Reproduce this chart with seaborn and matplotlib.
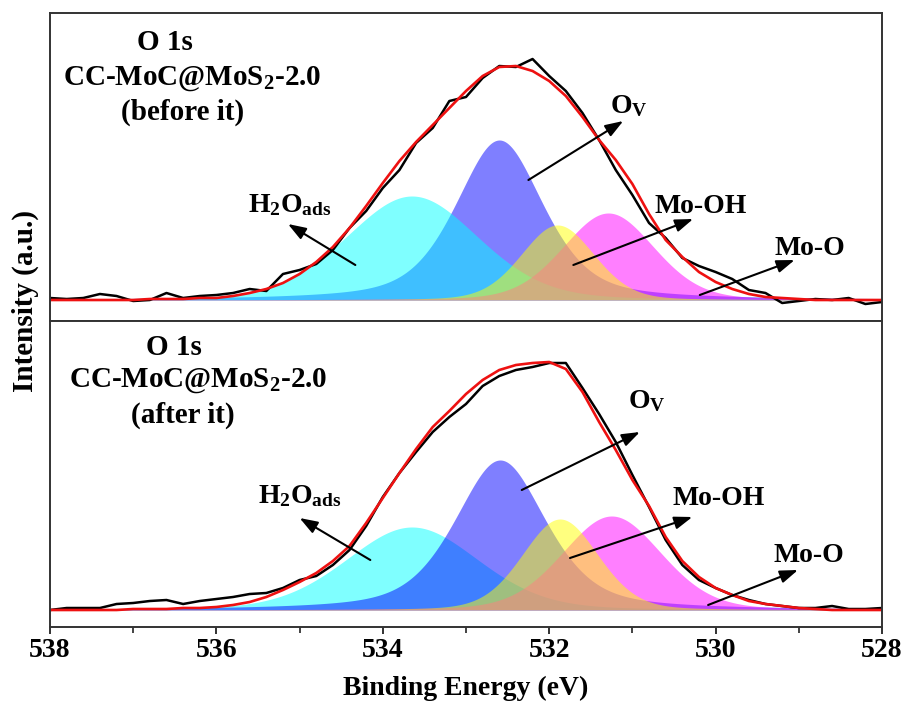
import numpy as np
import pandas as pd
import matplotlib
matplotlib.use("Agg")
import matplotlib.pyplot as plt
import seaborn as sns

# ---------------- data ----------------
energy = np.linspace(538, 528, 51)  # binding energy grid (eV), 0.2 eV steps

raw_before = [2, 1, 2, 6, 4, -1, 0, 7, 2, 4,
              5, 7, 11, 9, 26, 30, 36, 50, 72, 89,
              112, 130, 157, 172, 199, 203, 222, 234, 233, 241,
              224, 209, 187, 160, 130, 105, 77, 62, 42, 34,
              28, 21, 10, 7, -3, -1, 1, 0, 2, -4, -2]
fit_before = [0, 0, 0, 0, 0, 0, 1, 1, 1, 2,
              2, 4, 7, 11, 17, 26, 38, 53, 72, 94,
              117, 139, 158, 175, 192, 209, 224, 233, 234, 229,
              219, 204, 183, 160, 140, 116, 86, 60, 43, 28,
              18, 11, 6, 3, 2, 1, 0, 0, 0, 0, 0]

raw_after = [0, 2, 2, 2, 6, 7, 9, 10, 6, 9,
             11, 13, 16, 17, 22, 30, 34, 45, 60, 84,
             113, 137, 158, 178, 193, 206, 224, 234, 240, 243,
             247, 247, 222, 196, 168, 135, 103, 70, 45, 30,
             22, 15, 10, 6, 4, 2, 2, 4, 1, 1, 2]
fit_after = [0, 0, 0, 0, 0, 1, 1, 1, 2, 2,
             3, 5, 8, 13, 20, 28, 37, 49, 64, 87,
             112, 137, 161, 183, 199, 216, 230, 240, 245, 247,
             248, 241, 218, 188, 160, 130, 104, 73, 49, 33,
             22, 15, 9, 6, 4, 2, 1, 0, 0, 0, 0]

peak_names = ["H2Oads", "Ov", "Mo-OH", "Mo-O"]
centers_before = [533.65, 532.60, 531.90, 531.29]
heights_before = [104, 160, 75, 87]
fwhm_before = [1.88, 1.25, 1.04, 1.30]
centers_after = [533.65, 532.59, 531.87, 531.25]
heights_after = [83, 150, 91, 94]
fwhm_after = [1.88, 1.30, 1.08, 1.41]
lorentz_frac = [0.2, 0.5, 0.2, 0.2]

sample_titles = ["(before it)", "(after it)"]
tick_values = [538, 536, 534, 532, 530, 528]

# ---------------- style ----------------
sns.set_theme(style="white")
plt.rcParams["font.family"] = ["Liberation Serif", "DejaVu Serif"]
plt.rcParams["font.weight"] = "bold"
plt.rcParams["text.color"] = "black"
plt.rcParams["axes.labelcolor"] = "black"
plt.rcParams["xtick.color"] = "black"
plt.rcParams["mathtext.fontset"] = "custom"
plt.rcParams["mathtext.rm"] = "Liberation Serif:bold"
plt.rcParams["mathtext.it"] = "Liberation Serif:bold"
plt.rcParams["mathtext.bf"] = "Liberation Serif:bold"
plt.rcParams["mathtext.default"] = "bf"

peak_colors = {"H2Oads": "#00ffff", "Ov": "#0000ff", "Mo-OH": "#ffff00", "Mo-O": "#ff00ff"}
order_top = ["Ov", "H2Oads", "Mo-O", "Mo-OH"]
order_bot = ["H2Oads", "Ov", "Mo-O", "Mo-OH"]


def pseudo_voigt(x, c, h, fwhm, eta):
    hw = fwhm / 2.0
    g = np.exp(-np.log(2) * ((x - c) / hw) ** 2)
    lo = 1.0 / (1.0 + ((x - c) / hw) ** 2)
    return h * ((1 - eta) * g + eta * lo)


fig = plt.figure(figsize=(9.10, 7.08), dpi=100)
left, right = 50 / 910, 882 / 910
ax_top = fig.add_axes([left, 1 - 320.5 / 708, right - left, (320.5 - 12.7) / 708])
ax_bot = fig.add_axes([left, 1 - 627 / 708, right - left, (627 - 320.5) / 708])

fine = np.linspace(538, 528, 1001)

panels = [
    (ax_top, raw_before, fit_before, centers_before, heights_before, fwhm_before, (-20.5, 287.3), order_top),
    (ax_bot, raw_after, fit_after, centers_after, heights_after, fwhm_after, (-17, 289.5), order_bot),
]

for ax, raw, fit, cen, hei, fw, ylim, order in panels:
    comps = {n: (c, h, w, e) for n, c, h, w, e in zip(peak_names, cen, hei, fw, lorentz_frac)}
    for n in order:
        c, h, w, e = comps[n]
        y = pseudo_voigt(fine, c, h, w, e)
        ax.fill_between(fine, 0, y, color=peak_colors[n], alpha=0.5, linewidth=0)
    df = pd.DataFrame({"E": energy, "raw": raw, "fit": fit})
    sns.lineplot(data=df, x="E", y="raw", ax=ax, color="black", linewidth=1.8, sort=False)
    sns.lineplot(data=df, x="E", y="fit", ax=ax, color="#ee1111", linewidth=1.9, sort=False)
    ax.set_xlim(538, 528)
    ax.set_ylim(*ylim)
    ax.set_yticks([])
    ax.set_ylabel("")
    ax.set_xlabel("")
    for sp in ax.spines.values():
        sp.set_visible(True)
        sp.set_color("#333333")
        sp.set_linewidth(1.4)

ax_top.set_xticks([])
ax_bot.set_xticks(tick_values)
ax_bot.set_xticklabels([str(t) for t in tick_values])
ax_bot.set_xticks([537, 535, 533, 531, 529], minor=True)
ax_bot.tick_params(axis="x", which="major", direction="out", length=5, width=1.3,
                   labelsize=20, pad=3, bottom=True, color="#222222", labelcolor="black")
ax_bot.tick_params(axis="x", which="minor", direction="out", length=4, width=1.2, bottom=True,
                   color="#222222")
for lab in ax_bot.get_xticklabels():
    lab.set_fontweight("bold")
ax_bot.set_xlabel("Binding Energy (eV)", fontsize=20, fontweight="bold", labelpad=9,
                  color="black")
fig.text(25 / 910, 1 - 301 / 708, "Intensity (a.u.)", rotation=90, fontsize=21,
         fontweight="bold", ha="center", va="center", color="black")

# titles
title_pos = [
    (ax_top, [(0.138, 0.879), (0.171, 0.765), (0.159, 0.651)], sample_titles[0]),
    (ax_bot, [(0.149, 0.887), (0.178, 0.783), (0.160, 0.666)], sample_titles[1]),
]
for ax, pos, st in title_pos:
    texts = ["O 1s", r"CC-MoC@MoS$_{2}$-2.0", st]
    for (x, y), t in zip(pos, texts):
        ax.text(x, y, t, transform=ax.transAxes, ha="center", va="baseline",
                fontsize=21, fontweight="bold", color="black")

# labels and arrows
label_text = {"H2Oads": r"H$_{2}$O$_{ads}$", "Ov": r"O$_{V}$", "Mo-OH": "Mo-OH", "Mo-O": "Mo-O"}
ann_top = {
    "H2Oads": ((535.62, 88), (534.33, 35), (535.14, 76)),
    "Ov": ((531.27, 187), (532.25, 120), (531.11, 179)),
    "Mo-OH": ((530.73, 87), (531.71, 35), (530.27, 81)),
    "Mo-O": ((529.29, 45), (530.19, 5), (529.05, 40)),
}
ann_bot = {
    "H2Oads": ((535.50, 107), (534.15, 50), (535.00, 92)),
    "Ov": ((531.05, 202), (532.33, 120), (530.91, 178)),
    "Mo-OH": ((530.52, 105), (531.75, 52), (530.28, 93)),
    "Mo-O": ((529.31, 48), (530.09, 5), (529.01, 40)),
}
for ax, ann in [(ax_top, ann_top), (ax_bot, ann_bot)]:
    for n, (tp, tail, head) in ann.items():
        ax.text(tp[0], tp[1], label_text[n], ha="left", va="baseline",
                fontsize=20, fontweight="bold", color="black")
        ax.annotate("", xy=head, xytext=tail,
                    arrowprops=dict(arrowstyle="-|>,head_length=0.9,head_width=0.32",
                                    color="black", lw=1.5, mutation_scale=12,
                                    shrinkA=0, shrinkB=0))

fig.savefig("out.png", dpi=100)
